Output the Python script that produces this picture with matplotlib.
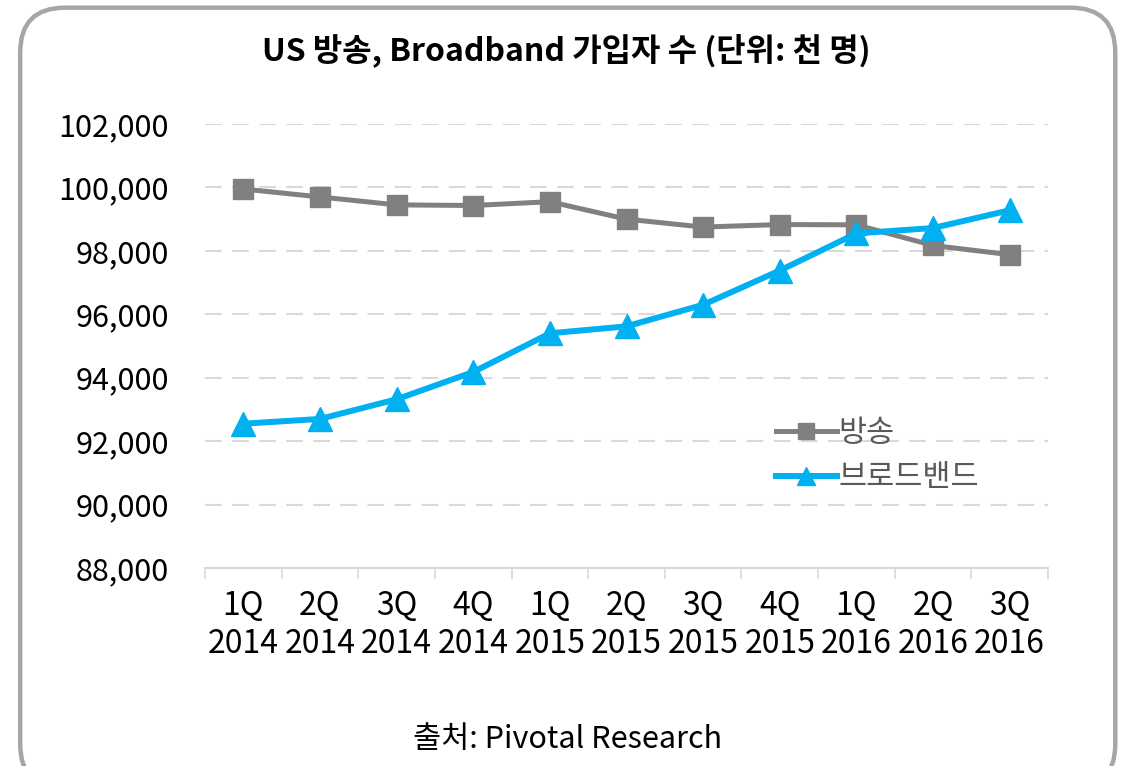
import numpy as np
import matplotlib.pyplot as plt
from matplotlib.patches import FancyBboxPatch

plt.rcParams['font.family'] = ['Noto Sans CJK KR', 'DejaVu Sans']

#====================================================
#                       Data
#====================================================
quarters  = ['1Q', '2Q', '3Q', '4Q', '1Q', '2Q', '3Q', '4Q', '1Q', '2Q', '3Q']
years     = ['2014', '2014', '2014', '2014', '2015', '2015', '2015', '2015',
             '2016', '2016', '2016']
broadcast = [99950, 99700, 99450, 99430, 99550, 99000, 98750, 98830, 98820, 98170, 97880]
broadband = [92550, 92700, 93320, 94180, 95400, 95620, 96300, 97380, 98550, 98720, 99280]
yticks    = np.arange(88000, 102001, 2000)

#====================================================
#                       Plotting
#====================================================
fig = plt.figure(figsize=(11.22, 7.66), dpi=100)

# rounded frame
frame = FancyBboxPatch((0.018, -0.03), 0.976, 1.02, transform=fig.transFigure,
                       boxstyle='round,pad=0,rounding_size=0.04',
                       fc='none', ec='#a6a6a6', lw=3.2, mutation_aspect=1122/766)
fig.patches.append(frame)

ax = fig.add_axes([205/1122, 1-568/766, (1048-205)/1122, (568-124)/766])
ax.set_facecolor('none')
x = np.arange(len(quarters))

ax.plot(x, broadcast, color='#808080', lw=3.6, marker='s', ms=15,
        label='방송', zorder=3)
ax.plot(x, broadband, color='#00b0f0', lw=4.3, marker='^', ms=17,
        label='브로드밴드', zorder=4)

ax.set_xlim(-0.5, len(x) - 0.5)
ax.set_ylim(88000, 102000)
ax.set_yticks(yticks)
ax.set_yticklabels([f'{v:,}' for v in yticks])
ax.set_xticks(x)
ax.set_xticklabels([q + '\n' + y for q, y in zip(quarters, years)], linespacing=1.25)
ax.set_xticks(np.arange(-0.5, len(x)), minor=True)

ax.tick_params(axis='x', which='major', length=0, labelsize=23, pad=16)
ax.tick_params(axis='x', which='minor', length=8, width=1.2, color='#d9d9d9')
ax.tick_params(axis='y', length=0, labelsize=22, pad=26)

for s in ['top', 'right', 'left']:
    ax.spines[s].set_visible(False)
ax.spines['bottom'].set_color('#d9d9d9')
ax.spines['bottom'].set_linewidth(1.5)

ax.grid(axis='y', color='#d9d9d9', lw=1.5, linestyle=(0, (8, 5)))
ax.set_axisbelow(True)

fig.text(0.505, 0.935, 'US 방송, Broadband 가입자 수 (단위: 천 명)',
         ha='center', va='center', fontsize=23, fontweight='bold')
fig.text(0.506, 0.035, '출처: Pivotal Research', ha='center', va='center', fontsize=22)

leg = ax.legend(loc='upper left', bbox_to_anchor=(748/1122, 1-390/766),
                bbox_transform=fig.transFigure, frameon=False, fontsize=22,
                handlelength=2.0, handletextpad=0.05, labelspacing=0.45,
                markerscale=0.8)
for t in leg.get_texts():
    t.set_color('#595959')

plt.savefig('out.png', dpi=100)
